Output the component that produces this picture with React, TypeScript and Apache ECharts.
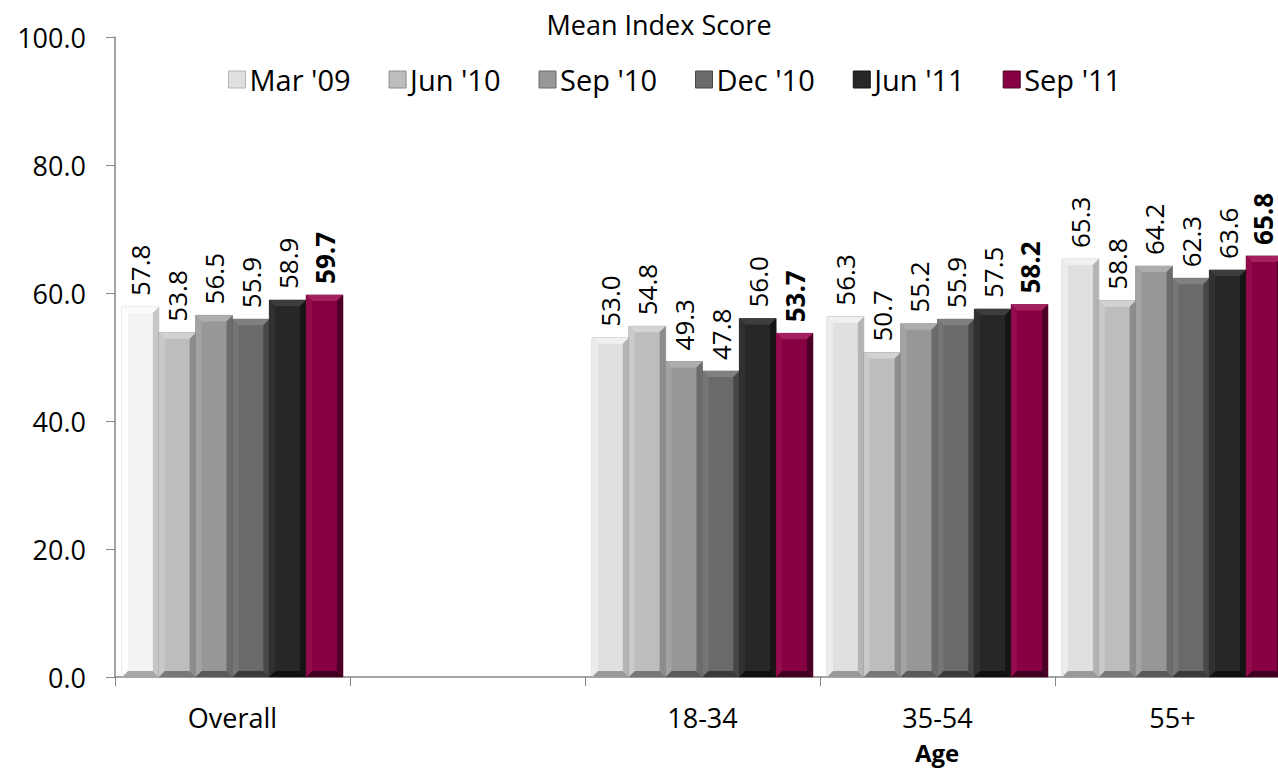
import React, { useEffect, useRef } from 'react';
import * as echarts from 'echarts';

const categories = ['Overall', '', '18-34', '35-54', '55+'];
const seriesNames = ["Mar '09", "Jun '10", "Sep '10", "Dec '10", "Jun '11", "Sep '11"];
const mar09Values = [57.8, null, 53.0, 56.3, 65.3];
const jun10Values = [53.8, null, 54.8, 50.7, 58.8];
const sep10Values = [56.5, null, 49.3, 55.2, 64.2];
const dec10Values = [55.9, null, 47.8, 55.9, 62.3];
const jun11Values = [58.9, null, 56.0, 57.5, 63.6];
const sep11Values = [59.7, null, 53.7, 58.2, 65.8];
const yTickValues = [0, 20, 40, 60, 80, 100];

const allValues = [mar09Values, jun10Values, sep10Values, dec10Values, jun11Values, sep11Values];

type Pal = { face: string; top: string; left: string; right: string; bottom: string; edge: string };
const palettes: Pal[] = [
  { face: '#e0e0e0', top: '#f0f0f0', left: '#ececec', right: '#b4b4b4', bottom: '#9a9a9a', edge: '#a6a6a6' },
  { face: '#bdbdbd', top: '#d3d3d3', left: '#c9c9c9', right: '#8c8c8c', bottom: '#787878', edge: '#8a8a8a' },
  { face: '#979797', top: '#adadad', left: '#a3a3a3', right: '#6b6b6b', bottom: '#5a5a5a', edge: '#6e6e6e' },
  { face: '#6a6a6a', top: '#808080', left: '#767676', right: '#474747', bottom: '#3a3a3a', edge: '#4a4a4a' },
  { face: '#272727', top: '#3d3d3d', left: '#303030', right: '#151515', bottom: '#101010', edge: '#1a1a1a' },
  { face: '#870043', top: '#a5205f', left: '#930a4d', right: '#4c0025', bottom: '#3e001e', edge: '#5a002c' },
];
const overallFirst: Pal = { face: '#f3f3f3', top: '#fbfbfb', left: '#ffffff', right: '#c6c6c6', bottom: '#a8a8a8', edge: '#b4b4b4' };

const FONT = '"Open Sans", Lato, sans-serif';
const GROUP_FILL = 0.94;

export default function App() {
  const ref = useRef<HTMLDivElement>(null);
  useEffect(() => {
    if (!ref.current) return;
    const chart = echarts.init(ref.current, null, { renderer: 'svg' });
    const n = seriesNames.length;
    const series = seriesNames.map((name, i) => ({
      name,
      type: 'custom',
      coordinateSystem: 'cartesian2d',
      clip: false,
      itemStyle: { color: palettes[i].face },
      encode: { x: 0, y: 1 },
      data: allValues[i].map((v, j) => [j, v == null ? '-' : v]),
      renderItem: (params: any, api: any) => {
        const cat = api.value(0);
        const val = api.value(1);
        if (val == null || isNaN(val)) return null;
        const base = api.coord([cat, 0]);
        const topPt = api.coord([cat, val]);
        const band = api.size([1, 0])[0];
        const bw = (band * GROUP_FILL) / n;
        const x0 = base[0] - (band * GROUP_FILL) / 2 + i * bw;
        const x1 = x0 + bw;
        const yT = topPt[1];
        const yB = base[1];
        const b = 6;
        const p = i === 0 && cat === 0 ? overallFirst : palettes[i];
        const isLast = i === n - 1;
        const labelX = (x0 + x1) / 2 + (isLast && cat === 4 ? -2 : 0);
        return {
          type: 'group',
          children: [
            { type: 'rect', shape: { x: x0, y: yT, width: bw, height: yB - yT }, style: { fill: p.face, stroke: p.edge, lineWidth: 0.6 } },
            { type: 'polygon', shape: { points: [[x0, yT], [x1, yT], [x1 - b, yT + b], [x0 + b, yT + b]] }, style: { fill: p.top } },
            { type: 'polygon', shape: { points: [[x0, yT], [x0 + b, yT + b], [x0 + b, yB - b], [x0, yB]] }, style: { fill: p.left } },
            { type: 'polygon', shape: { points: [[x1, yT], [x1, yB], [x1 - b, yB - b], [x1 - b, yT + b]] }, style: { fill: p.right } },
            { type: 'polygon', shape: { points: [[x0, yB], [x0 + b, yB - b], [x1 - b, yB - b], [x1, yB]] }, style: { fill: p.bottom } },
            {
              type: 'text',
              x: labelX,
              y: yT - 11,
              rotation: Math.PI / 2,
              style: {
                text: Number(val).toFixed(1),
                fill: '#000',
                fontFamily: FONT,
                fontSize: 26,
                fontWeight: isLast ? 'bold' : 'normal',
                align: 'left',
                verticalAlign: 'middle',
                textAlign: 'left',
                textVerticalAlign: 'middle',
              },
            },
          ],
        };
      },
    }));
    chart.setOption({
      animation: false,
      title: {
        text: 'Mean Index Score',
        left: 654,
        textAlign: 'center',
        top: 6,
        textStyle: { fontFamily: FONT, fontSize: 27, fontWeight: 'normal', color: '#000' },
      },
      legend: {
        data: seriesNames.map((nm, i) => ({
          name: nm,
          itemStyle: { color: palettes[i].face, borderColor: palettes[i].right, borderWidth: 1 },
        })),
        left: 223,
        top: 60,
        icon: 'rect',
        itemWidth: 17,
        itemHeight: 17,
        itemGap: 38,
        textStyle: { fontFamily: FONT, fontSize: 29, color: '#000', padding: [0, 0, 0, -1] },
      },
      grid: { left: 115, right: 0, top: 37, bottom: 92, containLabel: false },
      xAxis: {
        type: 'category',
        data: categories,
        axisLine: { lineStyle: { color: '#868686', width: 1.5 } },
        axisTick: { show: true, length: 9, lineStyle: { color: '#868686' } },
        axisLabel: { fontFamily: FONT, fontSize: 27, color: '#000', margin: 27 },
      },
      yAxis: {
        type: 'value',
        min: yTickValues[0],
        max: yTickValues[yTickValues.length - 1],
        interval: 20,
        splitLine: { show: false },
        axisLine: { show: true, lineStyle: { color: '#868686', width: 1.5 } },
        axisTick: { show: true, length: 9, lineStyle: { color: '#868686' } },
        axisLabel: {
          fontFamily: FONT,
          fontSize: 27,
          color: '#000',
          margin: 29,
          formatter: (v: number) => v.toFixed(1),
        },
      },
      graphic: [
        {
          type: 'text',
          left: 915,
          top: 740,
          style: { text: 'Age', fontFamily: FONT, fontSize: 24, fontWeight: 'bold', fill: '#000' },
        },
      ],
      series,
    });
    return () => chart.dispose();
  }, []);
  return (
    <div
      ref={ref}
      style={{ position: 'fixed', left: 0, top: 0, width: 1290, height: 769, background: '#fff' }}
    />
  );
}
